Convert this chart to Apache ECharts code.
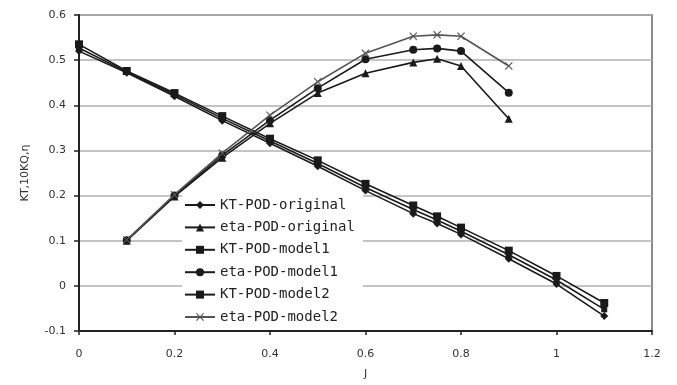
<!DOCTYPE html>
<html>
<head>
<meta charset="utf-8">
<script src="https://cdn.jsdelivr.net/npm/echarts@6/dist/echarts.min.js"></script>
<style>html,body{margin:0;padding:0;background:#fff}#c{width:677px;height:385px}</style>
</head>
<body>
<div id="c"></div>
<script>
const ktJ = [0, 0.1, 0.2, 0.3, 0.4, 0.5, 0.6, 0.7, 0.75, 0.8, 0.9, 1.0, 1.1];
const etaJ = [0.1, 0.2, 0.3, 0.4, 0.5, 0.6, 0.7, 0.75, 0.8, 0.9];
const ktOriginal = [0.520, 0.472, 0.420, 0.366, 0.316, 0.265, 0.211, 0.160, 0.138, 0.114, 0.060, 0.004, -0.067];
const ktModel1   = [0.527, 0.474, 0.424, 0.371, 0.321, 0.271, 0.218, 0.169, 0.146, 0.121, 0.069, 0.013, -0.052];
const ktModel2   = [0.535, 0.476, 0.427, 0.376, 0.326, 0.278, 0.226, 0.178, 0.154, 0.129, 0.078, 0.022, -0.038];
const etaOriginal = [0.100, 0.198, 0.284, 0.360, 0.427, 0.471, 0.495, 0.503, 0.487, 0.370];
const etaModel1   = [0.101, 0.200, 0.289, 0.367, 0.438, 0.502, 0.523, 0.526, 0.520, 0.428];
const etaModel2   = [0.102, 0.202, 0.294, 0.378, 0.452, 0.515, 0.553, 0.556, 0.553, 0.487];
const seriesNames = ['KT-POD-original', 'eta-POD-original', 'KT-POD-model1', 'eta-POD-model1', 'KT-POD-model2', 'eta-POD-model2'];
const xTicks = {min: 0, max: 1.2, interval: 0.2};
const yTicks = {min: -0.1, max: 0.6, interval: 0.1};

const pair = (xs, ys) => xs.map((x, i) => [x, ys[i]]);
const crossPath = 'path://M0,1L1,0L5,4L9,0L10,1L6,5L10,9L9,10L5,6L1,10L0,9L4,5Z';

function mk(name, xs, ys, symbol, size, color) {
  return {
    name, type: 'line', data: pair(xs, ys), symbol, symbolSize: size,
    lineStyle: {color, width: 1.6}, itemStyle: {color},
    emphasis: {disabled: true}, animation: false
  };
}

const chart = echarts.init(document.getElementById('c'));
chart.setOption({
  backgroundColor: '#fff',
  animation: false,
  grid: {left: 79, right: 25, top: 15, bottom: 52, show: true, borderColor: '#666', borderWidth: 1.5},
  xAxis: {
    type: 'value', min: xTicks.min, max: xTicks.max, interval: xTicks.interval,
    name: 'J', nameLocation: 'middle', nameGap: 38,
    nameTextStyle: {fontFamily: 'DejaVu Sans', fontSize: 11, color: '#333'},
    axisLine: {onZero: false, lineStyle: {color: '#222', width: 2}},
    axisTick: {show: true, inside: false, length: 4, lineStyle: {color: '#222', width: 1.5}},
    axisLabel: {margin: 18, fontFamily: 'DejaVu Sans', fontSize: 11, color: '#333'},
    splitLine: {show: false}
  },
  yAxis: {
    type: 'value', min: yTicks.min, max: yTicks.max, interval: yTicks.interval,
    name: 'KT,10KQ,η', nameLocation: 'middle', nameGap: 48, nameRotate: 90,
    nameTextStyle: {fontFamily: 'DejaVu Sans', fontSize: 11, color: '#333'},
    axisLine: {lineStyle: {color: '#222', width: 2}},
    axisTick: {show: true, inside: false, length: 5, lineStyle: {color: '#222', width: 1.5}},
    axisLabel: {margin: 13, fontFamily: 'DejaVu Sans', fontSize: 11, color: '#333',
      formatter: v => String(Math.round(v * 10) / 10)},
    splitLine: {lineStyle: {color: '#b0b0b0', width: 1.5}}
  },
  legend: {
    orient: 'vertical', left: 182, top: 193,
    backgroundColor: '#fff', padding: [5, 8, 6, 2],
    itemWidth: 30, itemHeight: 10, itemGap: 8.4,
    textStyle: {fontFamily: 'DejaVu Sans Mono', fontSize: 14, lineHeight: 14, color: '#222'},
    data: seriesNames
  },
  series: [
    mk(seriesNames[0], ktJ, ktOriginal, 'diamond', 8, '#1a1a1a'),
    mk(seriesNames[1], etaJ, etaOriginal, 'triangle', 8, '#1a1a1a'),
    mk(seriesNames[2], ktJ, ktModel1, 'rect', 6, '#1a1a1a'),
    mk(seriesNames[3], etaJ, etaModel1, 'circle', 8, '#1a1a1a'),
    mk(seriesNames[4], ktJ, ktModel2, 'rect', 8, '#1a1a1a'),
    mk(seriesNames[5], etaJ, etaModel2, crossPath, 8, '#555')
  ]
});
</script>
</body>
</html>
